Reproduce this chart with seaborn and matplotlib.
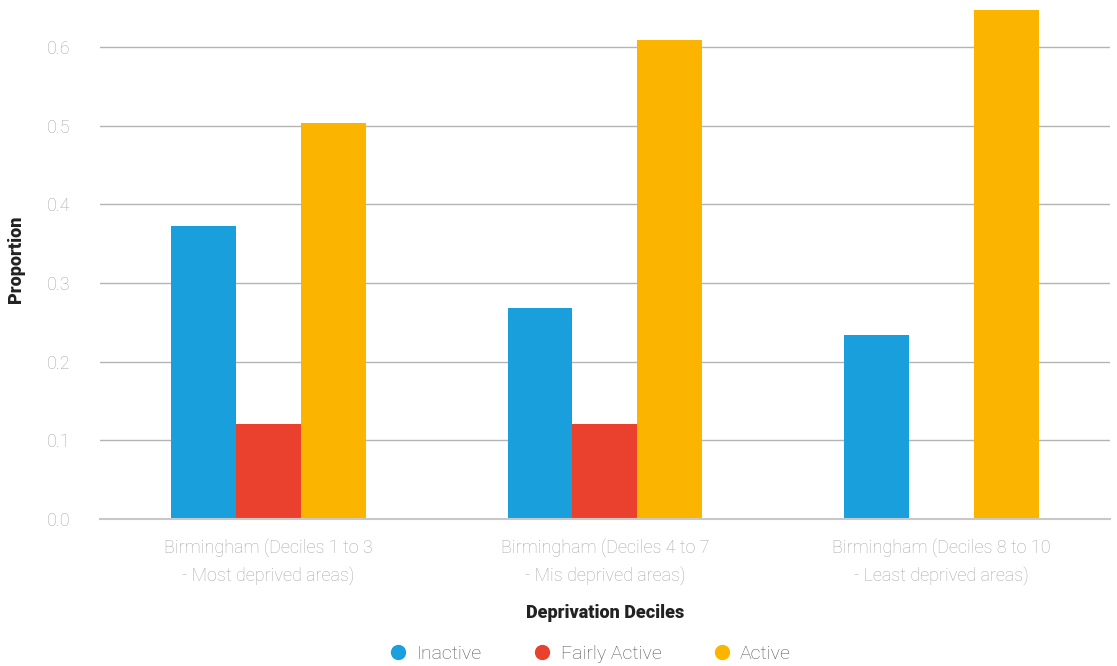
import numpy as np
import pandas as pd
import seaborn as sns
import matplotlib.pyplot as plt
from matplotlib.lines import Line2D

sns.set_style("white")
plt.rcParams['font.family'] = ['Roboto', 'DejaVu Sans']

# data
groups = ["Birmingham (Deciles 1 to 3\n- Most deprived areas)",
          "Birmingham (Deciles 4 to 7\n- Mis deprived areas)",
          "Birmingham (Deciles 8 to 10\n- Least deprived areas)"]
levels = ["Inactive", "Fairly Active", "Active"]
inactive = [0.372, 0.268, 0.234]
fairly_active = [0.121, 0.121, np.nan]
active = [0.503, 0.609, 0.647]
colors = ["#199fdb", "#e9412e", "#fbb500"]

df = pd.DataFrame({
    "group": groups * 3,
    "level": [l for l in levels for _ in groups],
    "value": inactive + fairly_active + active,
})

fig = plt.figure(figsize=(11.17, 6.66), dpi=100)
ax = fig.add_axes([0.0895, 0.2207, 0.904, 0.7793])

sns.barplot(data=df, x="group", y="value", hue="level", hue_order=levels,
            palette=colors, width=0.578, saturation=1, linewidth=0,
            ax=ax, legend=False)

ax.set_ylim(0, 0.66)
ax.set_yticks(np.arange(0, 0.61, 0.1))
ax.set_yticklabels(["{:.1f}".format(v) for v in np.arange(0, 0.61, 0.1)])
ax.yaxis.grid(True, color="#b4b4b4", linewidth=1)
ax.set_axisbelow(True)
for s in ["top", "right", "left"]:
    ax.spines[s].set_visible(False)
ax.spines["bottom"].set_color("#c8c8c8")
ax.spines["bottom"].set_linewidth(1.5)
ax.tick_params(axis="both", length=0, labelsize=13, labelcolor="#a8a8a8")
ax.tick_params(axis="y", pad=21)
ax.tick_params(axis="x", pad=14)
for t in ax.get_xticklabels() + ax.get_yticklabels():
    t.set_fontweight("light")
    t.set_linespacing(1.55)

ax.set_xlabel("Deprivation Deciles", fontsize=13, fontweight="black", color="#222222", labelpad=14)
ax.set_ylabel("Proportion", fontsize=13, fontweight="black", color="#222222", labelpad=16)

handles = [Line2D([], [], marker="o", linestyle="", markersize=10, color=c) for c in colors]
leg = fig.legend(handles, levels, loc="lower center", ncol=3, frameon=False,
                 bbox_to_anchor=(0.528, -0.022), fontsize=14, columnspacing=2.6,
                 handlelength=1.0, handletextpad=0.45)
for t in leg.get_texts():
    t.set_color("#555555")
    t.set_fontweight("light")

fig.savefig("out.png", dpi=100)
